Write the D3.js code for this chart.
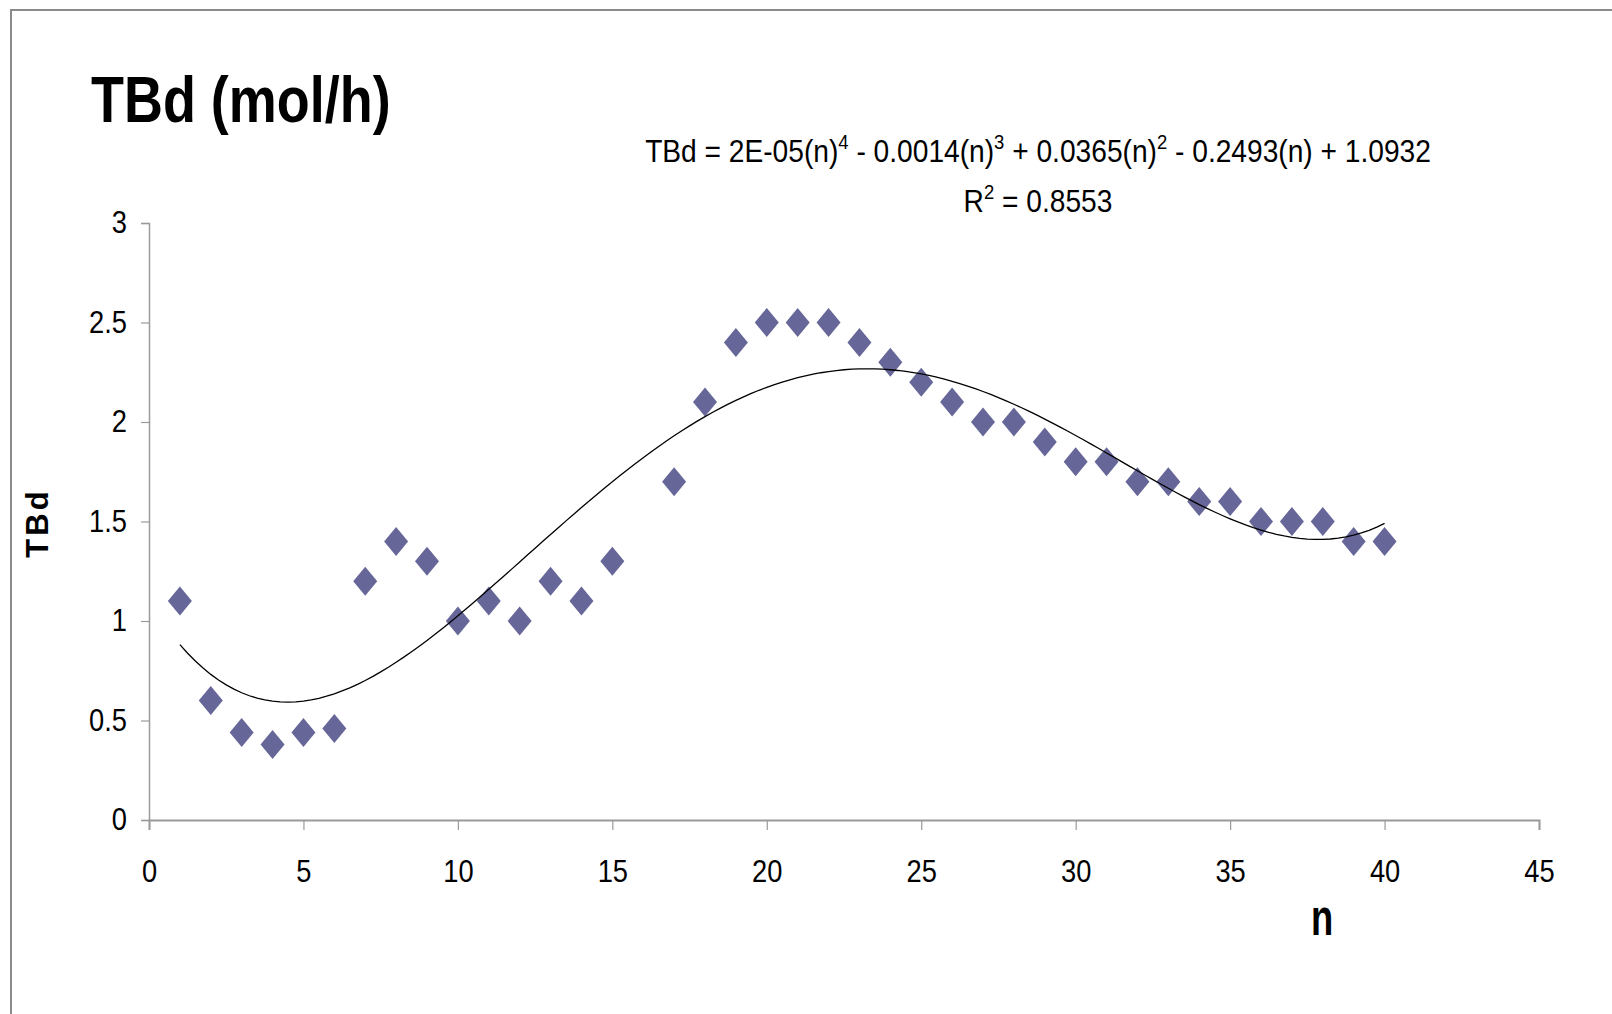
<!DOCTYPE html>
<html>
<head>
<meta charset="utf-8">
<script src="https://cdn.jsdelivr.net/npm/d3@7"></script>
<style>
  html, body { margin: 0; padding: 0; background: #ffffff; }
  svg { display: block; font-family: "Liberation Sans", Arial, sans-serif; }
</style>
</head>
<body>
<svg id="chart" width="1612" height="1014"></svg>
<script>
// Measured TBd values per stage n (stage 16 has no measurement)
const stages = [1, 2, 3, 4, 5, 6, 7, 8, 9, 10, 11, 12, 13, 14, 15,
                17, 18, 19, 20, 21, 22, 23, 24, 25, 26, 27, 28, 29, 30,
                31, 32, 33, 34, 35, 36, 37, 38, 39, 40];
const tbd = [1.1, 0.6, 0.44, 0.38, 0.44, 0.46, 1.2, 1.4, 1.3, 1.0, 1.1, 1.0, 1.2, 1.1, 1.3,
             1.7, 2.1, 2.4, 2.5, 2.5, 2.5, 2.4, 2.3, 2.2, 2.1, 2.0, 2.0, 1.9, 1.8,
             1.8, 1.7, 1.7, 1.6, 1.6, 1.5, 1.5, 1.5, 1.4, 1.4];

const xTicks = [0, 5, 10, 15, 20, 25, 30, 35, 40, 45];
const yTicks = [0, 0.5, 1, 1.5, 2, 2.5, 3];

const titleText = "TBd (mol/h)";
const yTitle = "TBd";
const xTitle = "n";
const r2Text = "0.8553";
// equation pieces: [text, superscript]
const eqParts = [["TBd = 2E-05(n)", "4"], [" - 0.0014(n)", "3"], [" + 0.0365(n)", "2"],
                 [" - 0.2493(n) + 1.0932", ""]];

const svg = d3.select("#chart");
const squeeze = 0.88;   // narrow rendering of the chart's lettering

// outer frame (only top and left edges are inside the page)
svg.append("path")
  .attr("d", "M11,1014 L11,10 L1612,10")
  .attr("fill", "none").attr("stroke", "#8a8a8a").attr("stroke-width", 2);

const x = d3.scaleLinear().domain([0, 45]).range([149, 1539]);
const y = d3.scaleLinear().domain([0, 3]).range([820, 223]);

const axisColor = "#9a9a9a";

function squeezeTicks(g, sx) {
  g.selectAll(".tick text").each(function () {
    const t = d3.select(this);
    const tx = +t.attr("x") || 0;
    const ty = +t.attr("y") || 0;
    t.attr("x", 0).attr("y", 0)
     .attr("transform", `translate(${tx},${ty}) scale(${sx},1)`);
  });
}

// y axis
const gy = svg.append("g").attr("transform", `translate(${x(0)},0)`)
  .call(d3.axisLeft(y).tickValues(yTicks).tickFormat(d => String(d))
        .tickSize(8).tickPadding(14));
gy.select(".domain").attr("stroke", axisColor).attr("stroke-width", 1.5);
gy.selectAll(".tick line").attr("stroke", axisColor).attr("stroke-width", 1.2);
gy.selectAll(".tick text").attr("font-size", 31).attr("fill", "#000")
  .attr("font-family", "'Liberation Sans', Arial, sans-serif");
squeezeTicks(gy, squeeze);

// x axis
const gx = svg.append("g").attr("transform", `translate(0,${y(0)})`)
  .call(d3.axisBottom(x).tickValues(xTicks).tickFormat(d => String(d))
        .tickSize(10).tickPadding(30));
gx.select(".domain").attr("stroke", axisColor).attr("stroke-width", 2);
gx.selectAll(".tick line").attr("stroke", axisColor).attr("stroke-width", 1.2);
gx.selectAll(".tick text").attr("font-size", 31).attr("fill", "#000")
  .attr("font-family", "'Liberation Sans', Arial, sans-serif");
squeezeTicks(gx, squeeze);

// quartic least-squares trendline through the measured points
function polyFit(xs, ys, deg) {
  const s = 40; // rescale n for conditioning
  const m = deg + 1;
  const A = Array.from({ length: m }, () => new Array(m + 1).fill(0));
  xs.forEach((xv, i) => {
    const u = xv / s;
    const p = [];
    for (let k = 0; k < m; k++) p.push(Math.pow(u, k));
    for (let r = 0; r < m; r++) {
      for (let c = 0; c < m; c++) A[r][c] += p[r] * p[c];
      A[r][m] += p[r] * ys[i];
    }
  });
  for (let c = 0; c < m; c++) {
    let piv = c;
    for (let r = c + 1; r < m; r++) if (Math.abs(A[r][c]) > Math.abs(A[piv][c])) piv = r;
    [A[c], A[piv]] = [A[piv], A[c]];
    for (let r = 0; r < m; r++) {
      if (r === c) continue;
      const f = A[r][c] / A[c][c];
      for (let k = c; k <= m; k++) A[r][k] -= f * A[c][k];
    }
  }
  const coef = A.map((row, i) => row[m] / row[i]);
  return v => coef.reduce((acc, cf, k) => acc + cf * Math.pow(v / s, k), 0);
}
const fit = polyFit(stages, tbd, 4);
const nMin = d3.min(stages), nMax = d3.max(stages);
const fitPts = d3.range(nMin, nMax + 0.001, 0.25).map(n => [n, fit(n)]);

// markers
const dw = 12, dh = 14.5;
svg.append("g").selectAll("path").data(stages.map((n, i) => [n, tbd[i]]))
  .join("path")
  .attr("d", d => {
    const cx = x(d[0]), cy = y(d[1]);
    return `M${cx},${cy - dh}L${cx + dw},${cy}L${cx},${cy + dh}L${cx - dw},${cy}Z`;
  })
  .attr("fill", "#666699");

svg.append("path").datum(fitPts)
  .attr("d", d3.line().x(d => x(d[0])).y(d => y(d[1])))
  .attr("fill", "none").attr("stroke", "#000").attr("stroke-width", 1.3);

// title
svg.append("text")
  .attr("transform", `translate(91,122) scale(0.83,1)`)
  .attr("font-size", 65).attr("font-weight", "bold").attr("fill", "#000")
  .text(titleText);

// trendline equation with superscript powers
const supShift = 13;
const eq = svg.append("text")
  .attr("transform", `translate(1038,162) scale(${squeeze},1)`)
  .attr("text-anchor", "middle").attr("font-size", 32).attr("fill", "#000");
let raised = false;
eqParts.forEach(([t, sup]) => {
  eq.append("tspan").attr("dy", raised ? supShift : 0).text(t);
  raised = false;
  if (sup) {
    eq.append("tspan").attr("font-size", 21).attr("dy", -supShift).text(sup);
    raised = true;
  }
});

const r2 = svg.append("text")
  .attr("transform", `translate(1038,212) scale(${squeeze},1)`)
  .attr("text-anchor", "middle").attr("font-size", 32).attr("fill", "#000");
r2.append("tspan").text("R");
r2.append("tspan").attr("font-size", 21).attr("dy", -supShift).text("2");
r2.append("tspan").attr("dy", supShift).text(" = " + r2Text);

// axis titles
svg.append("text")
  .attr("transform", "translate(48,523) rotate(-90)")
  .attr("text-anchor", "middle").attr("font-size", 31).attr("font-weight", "bold")
  .attr("letter-spacing", 3).attr("fill", "#000")
  .text(yTitle);

svg.append("text")
  .attr("transform", "translate(1322,935) scale(0.7,1)")
  .attr("text-anchor", "middle").attr("font-size", 52).attr("font-weight", "bold")
  .attr("fill", "#000")
  .text(xTitle);
</script>
</body>
</html>
